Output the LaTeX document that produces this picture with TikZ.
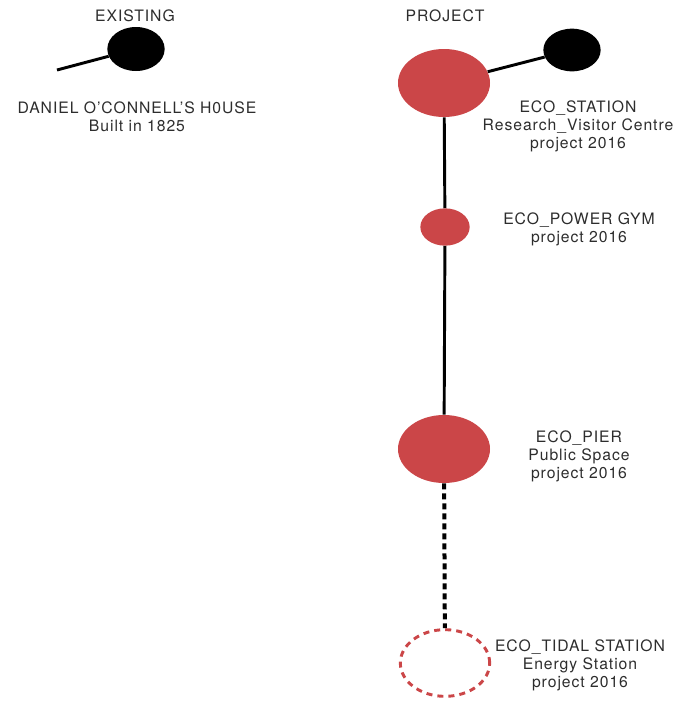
\documentclass[tikz,border=0pt]{standalone}
\usepackage{fontspec}
\setmainfont{TeX Gyre Heros}[LetterSpace=6]
\usetikzlibrary{shapes.geometric,positioning}
\definecolor{ecored}{RGB}{203,70,72}
\definecolor{textgray}{RGB}{45,45,45}

\begin{document}
\begin{tikzpicture}[x=0.75pt,y=-0.75pt,
	site/.style={ellipse,inner sep=0pt},
	caption/.style={align=center,text=textgray,font=\fontsize{11.8}{13.6}\selectfont},
	link/.style={line width=2.2pt}]
	\useasboundingbox (0,0) rectangle (695,701);
	\node[caption] (existing) at (135,16) {EXISTING};
	\node[caption] (project) at (445,16) {PROJECT};
	\node[site, fill=black, minimum width=43pt, minimum height=33pt] (house) at (136,49) {};
	\coordinate (houseend) at (57,70);
	\node[caption] (houselabel) at (137,117) {DANIEL O'CONNELL'S H0USE\\Built in 1825};
	\node[site, fill=ecored, minimum width=69pt, minimum height=51pt] (station) at (444,83) {};
	\node[site, fill=black, minimum width=43pt, minimum height=32pt] (houseright) at (572,50) {};
	\node[caption] (stationlabel) at (578,126) {ECO\_STATION\\Research\_Visitor Centre\\project 2016};
	\node[site, fill=ecored, minimum width=37pt, minimum height=28pt] (gym) at (445,227) {};
	\node[caption] (gymlabel) at (579,229) {ECO\_POWER GYM\\project 2016};
	\node[site, fill=ecored, minimum width=69pt, minimum height=51pt] (pier) at (444,449) {};
	\node[caption] (pierlabel) at (579,456) {ECO\_PIER\\Public Space\\project 2016};
	\node[site, draw=ecored, line width=2.2pt, dash pattern=on 4.5pt off 3.8pt, minimum width=67pt, minimum height=50pt] (tidal) at (445,663) {};
	\node[caption] (tidallabel) at (580,665) {ECO\_TIDAL STATION\\Energy Station\\project 2016};
	\draw[link] (houseend) -- (house);
	\draw[link] (station) -- (houseright);
	\draw[link] (station) -- (gym);
	\draw[link] (gym) -- (pier);
	\draw[line width=3pt, dash pattern=on 4.5pt off 3pt] (pier) -- (tidal);
\end{tikzpicture}
\end{document}
